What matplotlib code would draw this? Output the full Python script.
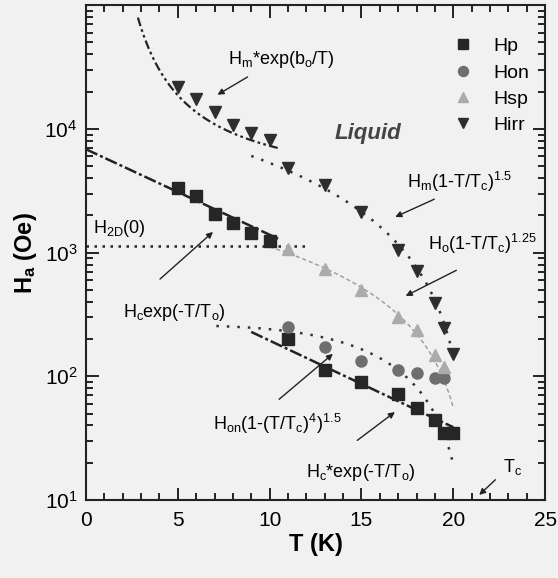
import matplotlib

matplotlib.use("Agg")

import matplotlib.pyplot as plt
import numpy as np
from matplotlib.ticker import LogLocator, MultipleLocator

# measured characteristic fields (Oe) vs temperature (K)
t_hp = [5, 6, 7, 8, 9, 10, 11, 13, 15, 17, 18, 19, 19.5, 20]
hp = [3300, 2850, 2050, 1750, 1450, 1250, 200, 112, 90, 72, 55, 44, 35, 35]

t_hon = [11, 13, 15, 17, 18, 19, 19.5]
hon = [250, 172, 133, 112, 106, 97, 97]

t_hsp = [11, 13, 15, 17, 18, 19, 19.5]
hsp = [1075, 736, 498, 301, 237, 148, 119]

t_hirr = [5, 6, 7, 8, 9, 10, 11, 13, 15, 17, 18, 19, 19.5, 20]
hirr = [22000, 17400, 13600, 10700, 9250, 8100, 4820, 3510, 2120, 1047, 710, 390, 246, 151]

# fit parameters
tc = 21.0
hm_exp, b0 = 2845.0, 9.42
hm = 14000.0
h0 = 2500.0
hc, t0 = 6850.0, 6.28
hc_star, t0_star = 975.0, 6.2
h_on = 260.0
h_2d = 1130.0

plt.rcParams["font.family"] = "Liberation Sans"
plt.rcParams["mathtext.fontset"] = "custom"
plt.rcParams["mathtext.rm"] = "Liberation Sans"
plt.rcParams["mathtext.it"] = "Liberation Sans:italic"
plt.rcParams["mathtext.bf"] = "Liberation Sans:bold"
plt.rcParams["mathtext.default"] = "regular"

bg = "#f1f1f1"
fig = plt.figure(figsize=(5.58, 5.78), dpi=100, facecolor=bg)
ax = fig.add_axes([0.154, 0.135, 0.823, 0.856], facecolor=bg)

# fitted curves
t = np.linspace(2.83, 10.6, 100)
ax.plot(t, hm_exp * np.exp(b0 / t), color="#222", lw=1.6, dashes=(4, 1.5, 1.2, 1.5, 1.2, 1.5))
t = np.linspace(9.0, 20.0, 200)
ax.plot(t, hm * (1 - t / tc) ** 1.5, color="#333", lw=1.8, dashes=(1, 3.2))
t = np.linspace(10.0, 20.0, 200)
ax.plot(t, h0 * (1 - t / tc) ** 1.25, color="#999", lw=1.0, dashes=(3, 2))
t = np.linspace(0.0, 10.6, 100)
ax.plot(t, hc * np.exp(-t / t0), color="#222", lw=1.8, dashes=(5, 1.2, 1.2, 1.2))
t = np.linspace(9.0, 20.0, 100)
ax.plot(t, hc_star * np.exp(-t / t0_star), color="#222", lw=1.8, dashes=(5, 1.2, 1.2, 1.2))
t = np.linspace(7.1, 20.0, 200)
ax.plot(t, h_on * (1 - (t / tc) ** 4) ** 1.5, color="#333", lw=1.8, dashes=(1, 3.2))
ax.plot([0, 12], [h_2d, h_2d], color="#222", lw=1.8, dashes=(1, 2.2))

# data points
ax.plot(t_hp, hp, "s", color="#262626", ms=8, label="Hp")
ax.plot(t_hon, hon, "o", color="#6e6e6e", ms=8, label="Hon")
ax.plot(t_hsp, hsp, "^", color="#ababab", ms=8.5, label="Hsp")
ax.plot(t_hirr, hirr, "v", color="#2e2e2e", ms=8.5, label="Hirr")

ax.set_yscale("log")
ax.set_xlim(0, 25)
ax.set_ylim(10, 1e5)
ax.set_yticks([10, 100, 1000, 10000])
ax.xaxis.set_major_locator(MultipleLocator(5))
ax.xaxis.set_minor_locator(MultipleLocator(1))
ax.yaxis.set_minor_locator(LogLocator(base=10, subs=np.arange(2, 10), numticks=10))
ax.tick_params(which="both", direction="in", top=True, right=True, width=1.2, labelsize=15)
ax.tick_params(which="major", length=9)
ax.tick_params(which="minor", length=5)
ax.tick_params(axis="x", pad=8)
ax.tick_params(axis="y", pad=6)
for side in ax.spines.values():
    side.set_linewidth(1.5)
    side.set_color("#222")

ax.set_xlabel("T (K)", fontsize=17, fontweight="bold", labelpad=2)
ax.set_ylabel(r"$\mathbf{H_a}$ (Oe)", fontsize=17, fontweight="bold", labelpad=4)

ax.legend(loc="upper right", bbox_to_anchor=(1.0, 0.966), frameon=False, fontsize=14,
          handletextpad=0.6, labelspacing=0.45, borderaxespad=0.4, markerscale=0.9)

ax.text(13.55, 8260, "Liquid", fontsize=16, fontweight="bold", style="italic",
        color="#444", ha="left", va="baseline")

fs = 13
arrow = dict(arrowstyle="-|>", color="#222", lw=1.0, mutation_scale=9)
labels = [
    (7.75, 33500, r"H$_m$*exp(b$_o$/T)"),
    (17.5, 3330, r"H$_m$(1-T/T$_c$)$^{1.5}$"),
    (18.6, 1050, r"H$_o$(1-T/T$_c$)$^{1.25}$"),
    (0.38, 1435, r"H$_{2D}$(0)"),
    (2.0, 301, r"H$_c$exp(-T/T$_o$)"),
    (6.9, 36.8, r"H$_{on}$(1-(T/T$_c$)$^4$)$^{1.5}$"),
    (12.0, 15.3, r"H$_c$*exp(-T/T$_o$)"),
    (22.7, 16.8, r"T$_c$"),
]
for x, y, s in labels:
    ax.text(x, y, s, fontsize=fs, ha="left", va="baseline")

# arrows: (tip, tail)
arrows = [
    ((7.03, 18400), (8.93, 27000)),
    ((16.7, 1900), (19.1, 2760)),
    ((17.27, 436), (20.3, 736)),
    ((7.03, 1520), (3.92, 590)),
    ((13.56, 157), (10.4, 63)),
    ((16.94, 53), (14.65, 29.4)),
    ((21.3, 10.6), (22.4, 15.1)),
]
for tip, tail in arrows:
    ax.annotate("", xy=tip, xytext=tail, arrowprops=arrow)

fig.savefig("out.png", dpi=100, facecolor=bg)
